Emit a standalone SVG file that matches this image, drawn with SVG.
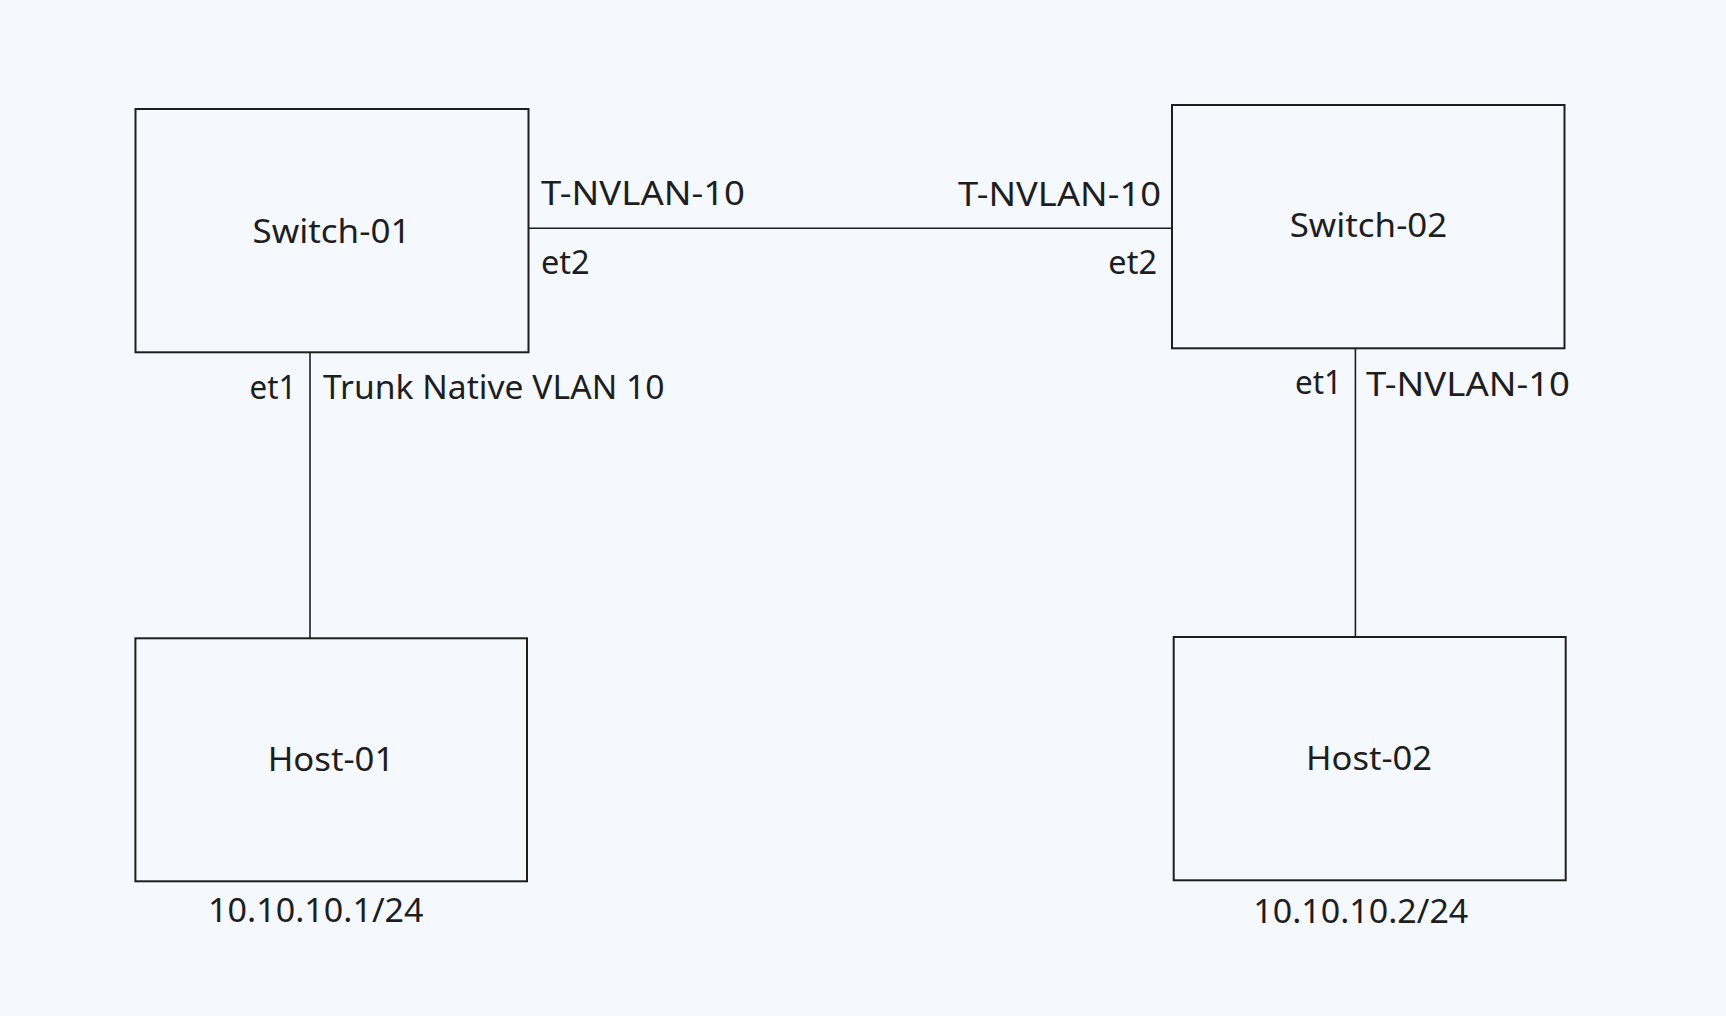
<svg xmlns="http://www.w3.org/2000/svg" width="1726" height="1016" viewBox="0 0 1726 1016">
<style>
.box{fill:#f5f8fd;stroke:#1e1e1e;stroke-width:2}
.link{fill:none;stroke:#1e1e1e;stroke-width:1.6}
text{font-family:"Noto Sans","Lato",sans-serif;font-size:33px;fill:#1e1e1e}
.c{text-anchor:middle}
.e{text-anchor:end}
</style>
<rect width="1726" height="1016" fill="#f5f8fd"/>
<g id="connectors">
<line class="link" x1="529" y1="228.3" x2="1172" y2="228.3"/>
<line class="link" x1="310" y1="351" x2="310" y2="638.5"/>
<line class="link" x1="1355.4" y1="348" x2="1355.4" y2="637"/>
<text x="541" y="205" textLength="204" lengthAdjust="spacingAndGlyphs">T-NVLAN-10</text>
<text x="541" y="274" textLength="48.7" lengthAdjust="spacingAndGlyphs">et2</text>
<text class="e" x="1161" y="205.5" textLength="203" lengthAdjust="spacingAndGlyphs">T-NVLAN-10</text>
<text class="e" x="1157" y="273.5" textLength="48.7" lengthAdjust="spacingAndGlyphs">et2</text>
<text class="e" x="296.5" y="399" textLength="47" lengthAdjust="spacingAndGlyphs">et1</text>
<text x="323" y="398.5" textLength="341.5" lengthAdjust="spacingAndGlyphs">Trunk Native VLAN 10</text>
<text class="e" x="1342" y="393.5" textLength="47" lengthAdjust="spacingAndGlyphs">et1</text>
<text x="1366" y="396" textLength="204" lengthAdjust="spacingAndGlyphs">T-NVLAN-10</text>
</g>
<g id="switch-01">
<rect class="box" x="135.5" y="109" width="393" height="243.3"/>
<text class="c" x="331.5" y="243.3" textLength="158" lengthAdjust="spacingAndGlyphs">Switch-01</text>
</g>
<g id="switch-02">
<rect class="box" x="1172" y="105" width="392.5" height="243.3"/>
<text class="c" x="1368.5" y="237.3" textLength="157.6" lengthAdjust="spacingAndGlyphs">Switch-02</text>
</g>
<g id="host-01">
<rect class="box" x="135.4" y="638.3" width="391.6" height="243"/>
<text class="c" x="331" y="770.7" textLength="126.6" lengthAdjust="spacingAndGlyphs">Host-01</text>
<text class="c" x="315.8" y="921.7" textLength="215.5" lengthAdjust="spacingAndGlyphs">10.10.10.1/24</text>
</g>
<g id="host-02">
<rect class="box" x="1173.7" y="637" width="392" height="243.3"/>
<text class="c" x="1369" y="770" textLength="126" lengthAdjust="spacingAndGlyphs">Host-02</text>
<text class="c" x="1360.8" y="922.7" textLength="215" lengthAdjust="spacingAndGlyphs">10.10.10.2/24</text>
</g>
</svg>
